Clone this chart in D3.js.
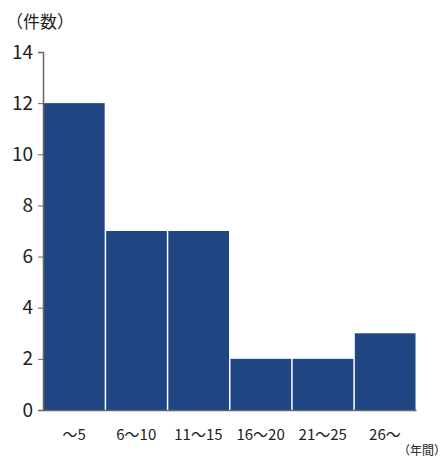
<!DOCTYPE html>
<html><head><meta charset="utf-8">
<script src="https://cdn.jsdelivr.net/npm/d3@7"></script>
<style>body{margin:0;background:#fff;}text{font-family:"Noto Sans CJK JP","Noto Sans",sans-serif;}</style>
</head><body>
<svg id="c" width="446" height="457"></svg>
<script>
const categories = ["～5","6～10","11～15","16～20","21～25","26～"];
const values = [12,7,7,2,2,3];
const yTicks = [0,2,4,6,8,10,12,14];

const svg = d3.select("#c");
const m = {left:43, right:30, top:52, bottom:47};
const W = 446, H = 457;
const x = d3.scaleBand().domain(categories).range([m.left, W - m.right]).padding(0);
const y = d3.scaleLinear().domain([0,14]).range([H - m.bottom, m.top]);

svg.append("g").selectAll("rect").data(values).join("rect")
  .attr("x", (d,i) => x(categories[i]) + 1)
  .attr("width", x.bandwidth() - 1.5)
  .attr("y", d => y(d))
  .attr("height", d => y(0) - y(d))
  .attr("fill", "#1f4582");

const ya = svg.append("g").attr("transform", `translate(${m.left},0)`)
  .call(d3.axisLeft(y).tickValues(yTicks).tickSize(5).tickPadding(5));
ya.select(".domain").attr("stroke", "#666").attr("stroke-width", 1.5);
ya.selectAll(".tick line").attr("stroke", "#666");
ya.selectAll(".tick text").attr("font-size", 19).attr("font-family", "'Open Sans',sans-serif").attr("fill", "#222");

const xa = svg.append("g").attr("transform", `translate(0,${y(0)})`)
  .call(d3.axisBottom(x).tickSize(0).tickPadding(19));
xa.select(".domain").attr("stroke", "#666").attr("stroke-width", 1.5);
xa.selectAll(".tick text").attr("font-size", 15).attr("fill", "#222");

svg.append("text").attr("x", 6).attr("y", 28).attr("font-size", 17).attr("fill", "#222").text("（件数）");
svg.append("text").attr("x", 446).attr("y", 455).attr("text-anchor", "end").attr("font-size", 12).attr("fill", "#222").text("（年間）");
</script>
</body></html>
